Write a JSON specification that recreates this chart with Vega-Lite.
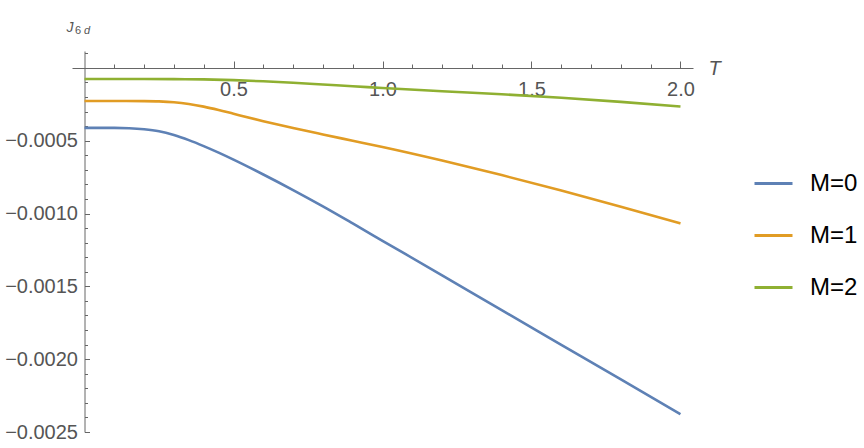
{
  "$schema": "https://vega.github.io/schema/vega-lite/v6.json",
  "width": 621,
  "height": 381,
  "autosize": {"type": "none"},
  "padding": {"left": 72, "top": 51, "right": 171, "bottom": 16},
  "background": "white",
  "config": {"view": {"stroke": null}, "font": "Liberation Sans"},
  "data": {"values": [
    {"T": 0, "J": -0.000412, "M": "M=0"},
    {"T": 0.1, "J": -0.000412, "M": "M=0"},
    {"T": 0.15, "J": -0.000414, "M": "M=0"},
    {"T": 0.2, "J": -0.000421, "M": "M=0"},
    {"T": 0.25, "J": -0.000435, "M": "M=0"},
    {"T": 0.3, "J": -0.000461, "M": "M=0"},
    {"T": 0.35, "J": -0.000496, "M": "M=0"},
    {"T": 0.4, "J": -0.000537, "M": "M=0"},
    {"T": 0.45, "J": -0.000582, "M": "M=0"},
    {"T": 0.5, "J": -0.00063, "M": "M=0"},
    {"T": 0.6, "J": -0.000732, "M": "M=0"},
    {"T": 0.7, "J": -0.000839, "M": "M=0"},
    {"T": 0.8, "J": -0.000951, "M": "M=0"},
    {"T": 0.9, "J": -0.001068, "M": "M=0"},
    {"T": 1.0, "J": -0.001187, "M": "M=0"},
    {"T": 1.2, "J": -0.001425, "M": "M=0"},
    {"T": 1.4, "J": -0.001663, "M": "M=0"},
    {"T": 1.6, "J": -0.001901, "M": "M=0"},
    {"T": 1.8, "J": -0.002139, "M": "M=0"},
    {"T": 2.0, "J": -0.002378, "M": "M=0"},
    {"T": 0, "J": -0.000227, "M": "M=1"},
    {"T": 0.1, "J": -0.000227, "M": "M=1"},
    {"T": 0.2, "J": -0.000228, "M": "M=1"},
    {"T": 0.25, "J": -0.00023, "M": "M=1"},
    {"T": 0.3, "J": -0.000236, "M": "M=1"},
    {"T": 0.35, "J": -0.000248, "M": "M=1"},
    {"T": 0.4, "J": -0.000266, "M": "M=1"},
    {"T": 0.45, "J": -0.000289, "M": "M=1"},
    {"T": 0.5, "J": -0.000315, "M": "M=1"},
    {"T": 0.6, "J": -0.000366, "M": "M=1"},
    {"T": 0.7, "J": -0.000413, "M": "M=1"},
    {"T": 0.8, "J": -0.000457, "M": "M=1"},
    {"T": 0.9, "J": -0.0005, "M": "M=1"},
    {"T": 1.0, "J": -0.000543, "M": "M=1"},
    {"T": 1.2, "J": -0.000636, "M": "M=1"},
    {"T": 1.4, "J": -0.000736, "M": "M=1"},
    {"T": 1.6, "J": -0.000842, "M": "M=1"},
    {"T": 1.8, "J": -0.000953, "M": "M=1"},
    {"T": 2.0, "J": -0.001068, "M": "M=1"},
    {"T": 0, "J": -0.000076, "M": "M=2"},
    {"T": 0.2, "J": -0.000076, "M": "M=2"},
    {"T": 0.3, "J": -0.000077, "M": "M=2"},
    {"T": 0.4, "J": -0.000079, "M": "M=2"},
    {"T": 0.5, "J": -0.000084, "M": "M=2"},
    {"T": 0.6, "J": -0.000092, "M": "M=2"},
    {"T": 0.7, "J": -0.000102, "M": "M=2"},
    {"T": 0.8, "J": -0.000114, "M": "M=2"},
    {"T": 0.9, "J": -0.000126, "M": "M=2"},
    {"T": 1.0, "J": -0.000138, "M": "M=2"},
    {"T": 1.2, "J": -0.00016, "M": "M=2"},
    {"T": 1.4, "J": -0.000181, "M": "M=2"},
    {"T": 1.6, "J": -0.000205, "M": "M=2"},
    {"T": 1.8, "J": -0.000233, "M": "M=2"},
    {"T": 2.0, "J": -0.000265, "M": "M=2"}
  ]},
  "layer": [
    {
      "mark": {"type": "line", "strokeWidth": 2.6, "interpolate": "monotone", "clip": false},
      "encoding": {
        "x": {
          "field": "T", "type": "quantitative",
          "scale": {"domain": [-0.042, 2.042], "nice": false, "zero": false},
          "axis": {
            "orient": "bottom", "offset": -364, "grid": false,
            "values": [0.5, 1, 1.5, 2], "format": ".1f",
            "tickSize": -7, "tickColor": "#666", "domainColor": "#666",
            "labelPadding": 18, "labelFontSize": 20, "labelColor": "#555", "labelFlush": false,
            "title": "T", "titleFontStyle": "italic", "titleFontWeight": "normal", "titleFontSize": 20,
            "titleColor": "#555", "titleX": 642, "titleY": 6, "titleAlign": "center", "titleBaseline": "alphabetic"
          }
        },
        "y": {
          "field": "J", "type": "quantitative",
          "scale": {"domain": [-0.0025, 0.000116], "nice": false, "zero": false},
          "axis": {
            "orient": "left", "offset": -12.5, "grid": false,
            "values": [-0.0005, -0.001, -0.0015, -0.002, -0.0025], "format": ".4f",
            "tickSize": -5, "tickColor": "#666", "domainColor": "#666",
            "labelPadding": 12, "labelFontSize": 20, "labelColor": "#555", "labelFlush": false,
            "title": "J", "titleAngle": 0, "titleFontStyle": "italic", "titleFontWeight": "normal", "titleFontSize": 14,
            "titleColor": "#555", "titleX": -15, "titleY": -20, "titleAlign": "center", "titleBaseline": "alphabetic"
          }
        },
        "color": {
          "field": "M", "type": "nominal",
          "scale": {"domain": ["M=0", "M=1", "M=2"], "range": ["#5E81B5", "#E19C24", "#8FB032"]},
          "legend": {
            "orient": "none", "legendX": 681, "legendY": 112, "title": null,
            "symbolType": "stroke", "symbolSize": 1444, "symbolStrokeWidth": 3,
            "labelFontSize": 24, "labelColor": "#000", "labelOffset": 16, "rowPadding": 19, "padding": 0
          }
        }
      }
    },
    {
      "mark": {"type": "line", "strokeOpacity": 0},
      "encoding": {
        "x": {
          "field": "T", "type": "quantitative",
          "scale": {"domain": [-0.042, 2.042], "nice": false, "zero": false},
          "axis": {
            "orient": "bottom", "offset": -364, "grid": false, "domain": false, "labels": false,
            "values": [0.1, 0.2, 0.3, 0.4, 0.6, 0.7, 0.8, 0.9, 1.1, 1.2, 1.3, 1.4, 1.6, 1.7, 1.8, 1.9],
            "tickSize": -4, "tickColor": "#666",
            "title": "d", "titleFontStyle": "italic", "titleFontWeight": "normal", "titleFontSize": 11,
            "titleColor": "#555", "titleX": 14.5, "titleY": -35, "titleAlign": "center", "titleBaseline": "alphabetic"
          }
        },
        "y": {
          "field": "J", "type": "quantitative",
          "scale": {"domain": [-0.0025, 0.000116], "nice": false, "zero": false},
          "axis": {
            "orient": "left", "offset": -12.5, "grid": false, "domain": false, "labels": false,
            "values": [0.0001, -0.0001, -0.0002, -0.0003, -0.0004, -0.0006, -0.0007, -0.0008, -0.0009, -0.0011, -0.0012, -0.0013, -0.0014, -0.0016, -0.0017, -0.0018, -0.0019, -0.0021, -0.0022, -0.0023, -0.0024],
            "tickSize": -3, "tickColor": "#666",
            "title": "6", "titleAngle": 0, "titleFontWeight": "normal", "titleFontSize": 11,
            "titleColor": "#555", "titleX": -7, "titleY": -18, "titleAlign": "center", "titleBaseline": "alphabetic"
          }
        }
      }
    }
  ],
  "resolve": {"axis": {"x": "independent", "y": "independent"}}
}
